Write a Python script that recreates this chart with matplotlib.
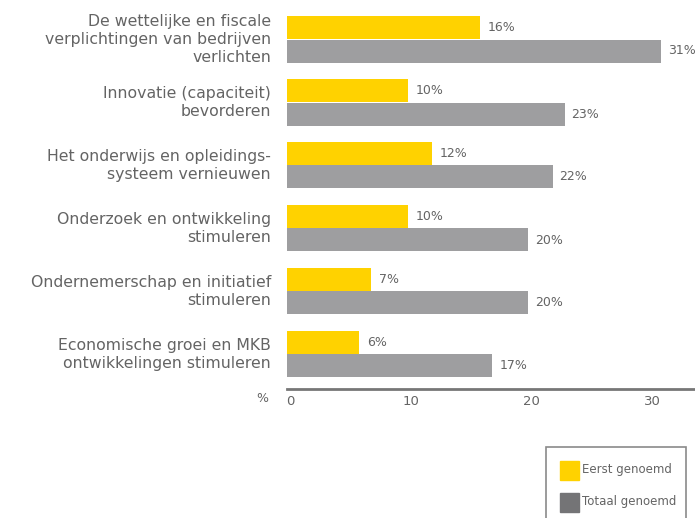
import matplotlib
matplotlib.use("Agg")
import matplotlib.pyplot as plt
from matplotlib.patches import Rectangle
from matplotlib.transforms import ScaledTranslation

categories = [
    "De wettelijke en fiscale\nverplichtingen van bedrijven\nverlichten",
    "Innovatie (capaciteit)\nbevorderen",
    "Het onderwijs en opleidings-\nsysteem vernieuwen",
    "Onderzoek en ontwikkeling\nstimuleren",
    "Ondernemerschap en initiatief\nstimuleren",
    "Economische groei en MKB\nontwikkelingen stimuleren",
]
eerst = [16, 10, 12, 10, 7, 6]
totaal = [31, 23, 22, 20, 20, 17]
xticks = [0, 10, 20, 30]
legend_labels = ["Eerst genoemd", "Totaal genoemd"]

YELLOW = "#FFD200"
GRAY = "#9E9EA0"
DARKGRAY = "#747476"
TEXT = "#646464"

W, H = 695, 518
fig = plt.figure(figsize=(W / 100, H / 100), dpi=100)
plt.rcParams['font.family'] = ['DejaVu Sans']

left_px, bottom_px = 287, 389
ax = fig.add_axes([left_px / W, (H - bottom_px) / H, (W - left_px) / W, bottom_px / H])

pitch = 63.0
top0 = 16.0
bh = 23 / pitch
ylo = (0 - top0) / pitch
yhi = (bottom_px - top0) / pitch
ax.set_ylim(yhi, ylo)
px_per_unit = 12.07
ax.set_xlim(0, (W - left_px) / px_per_unit)

n = len(categories)
ypos_e = [i + 11.5 / pitch for i in range(n)]
ypos_t = [i + 35 / pitch for i in range(n)]
ax.barh(ypos_e, eerst, height=bh, color=YELLOW, align='center')
ax.barh(ypos_t, totaal, height=bh, color=GRAY, align='center')

for y, v in zip(ypos_e, eerst):
    ax.annotate(f"{v}%", (v, y), xytext=(8, 0), textcoords='offset pixels',
                va='center', ha='left', fontsize=9, color=TEXT)
for y, v in zip(ypos_t, totaal):
    ax.annotate(f"{v}%", (v, y), xytext=(7, 0), textcoords='offset pixels',
                va='center', ha='left', fontsize=9, color=TEXT)

for i, c in enumerate(categories):
    ax.text(-16 / px_per_unit, i + 23.5 / pitch, c, ha='right', va='center',
            fontsize=11.3, color=TEXT, linespacing=1.28)

for s in ['top', 'right', 'left']:
    ax.spines[s].set_visible(False)
ax.spines['bottom'].set_color('#777777')
ax.spines['bottom'].set_linewidth(2)
ax.set_yticks([])
ax.set_xticks(xticks)
ax.set_xticklabels([str(t) for t in xticks])
ax.tick_params(axis='x', length=0, pad=4, labelsize=9.5, labelcolor=TEXT)
for lab in ax.get_xticklabels():
    lab.set_transform(lab.get_transform() + ScaledTranslation(3 / 100, 0, fig.dpi_scale_trans))

fig.text(262 / W, 1 - 399 / H, "%", ha='center', va='center', fontsize=9, color=TEXT)

# legend box (extends past the bottom edge)
fig.patches.append(Rectangle((546 / W, 1 - 530 / H), 140 / W, 83 / H,
                             transform=fig.transFigure, fill=False,
                             edgecolor='#8a8a8a', linewidth=1.2))
for k, (lab, col, yc) in enumerate(zip(legend_labels, [YELLOW, DARKGRAY], [470, 502])):
    fig.patches.append(Rectangle((560 / W, 1 - (yc + 9.5) / H), 19 / W, 19 / H,
                                 transform=fig.transFigure, color=col))
    fig.text(582 / W, 1 - yc / H, lab, ha='left', va='center', fontsize=8.5, color=TEXT)

fig.savefig("out.png", dpi=100)
